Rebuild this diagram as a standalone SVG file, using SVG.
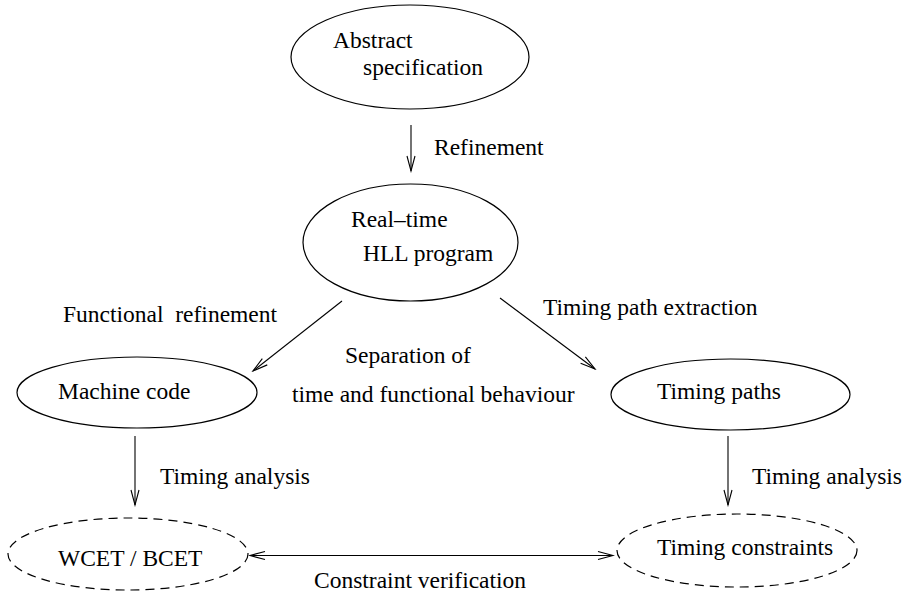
<svg xmlns="http://www.w3.org/2000/svg" width="909" height="597" viewBox="0 0 909 597">
  <style>
    .lbl { font-size: 23.5px; fill: #000; }
    .node { fill: none; stroke: #000; stroke-width: 1.2; }
    .dash { stroke-dasharray: 9 6; }
    .edge { fill: none; stroke: #000; stroke-width: 1.1; }
  </style>
  <defs>
    <marker id="head" viewBox="-16 -6 18 12" refX="0" refY="0" markerWidth="18" markerHeight="12" markerUnits="userSpaceOnUse" orient="auto-start-reverse">
      <path d="M -15 -4 L 0 0 L -15 4" fill="none" stroke="#000" stroke-width="1.1"/>
    </marker>
  </defs>

  <rect width="909" height="597" fill="#fff"/>

  <g id="connectors">
    <line class="edge" x1="411" y1="125" x2="411" y2="171" marker-end="url(#head)"/>
    <line class="edge" x1="342" y1="301" x2="253" y2="371" marker-end="url(#head)"/>
    <line class="edge" x1="500" y1="298" x2="595" y2="369" marker-end="url(#head)"/>
    <line class="edge" x1="135" y1="436" x2="135" y2="505" marker-end="url(#head)"/>
    <line class="edge" x1="728" y1="436" x2="728" y2="505" marker-end="url(#head)"/>
    <line class="edge" x1="250" y1="555.5" x2="613" y2="555.5" marker-start="url(#head)" marker-end="url(#head)"/>
  </g>

  <g font-family="'Liberation Serif', 'Times New Roman', Times, serif">
    <g id="edge-labels">
      <text class="lbl" x="434" y="155">Refinement</text>
      <text class="lbl" x="63" y="322" xml:space="preserve">Functional  refinement</text>
      <text class="lbl" x="543" y="315">Timing path extraction</text>
      <text class="lbl" x="345" y="363">Separation of</text>
      <text class="lbl" x="292" y="402">time and functional behaviour</text>
      <text class="lbl" x="160" y="484">Timing analysis</text>
      <text class="lbl" x="752" y="484">Timing analysis</text>
      <text class="lbl" x="314" y="588">Constraint verification</text>
    </g>

    <g id="abstract-spec">
      <ellipse class="node" cx="410" cy="57" rx="119" ry="52"/>
      <text class="lbl" x="333" y="48">Abstract</text>
      <text class="lbl" x="363" y="75">specification</text>
    </g>

    <g id="hll-program">
      <ellipse class="node" cx="410.5" cy="242.5" rx="107.5" ry="58.5"/>
      <text class="lbl" x="351" y="227">Real–time</text>
      <text class="lbl" x="363" y="261">HLL program</text>
    </g>

    <g id="machine-code">
      <ellipse class="node" cx="137" cy="392.5" rx="120" ry="35.5"/>
      <text class="lbl" x="58" y="399">Machine code</text>
    </g>

    <g id="timing-paths">
      <ellipse class="node" cx="730.5" cy="394.5" rx="119.5" ry="35.5"/>
      <text class="lbl" x="657" y="399">Timing paths</text>
    </g>

    <g id="wcet-bcet">
      <ellipse class="node dash" cx="128" cy="554" rx="120" ry="36"/>
      <text class="lbl" x="58" y="566">WCET / BCET</text>
    </g>

    <g id="timing-constraints">
      <ellipse class="node dash" cx="737" cy="550.5" rx="120" ry="36.5"/>
      <text class="lbl" x="657" y="555">Timing constraints</text>
    </g>
  </g>
</svg>
